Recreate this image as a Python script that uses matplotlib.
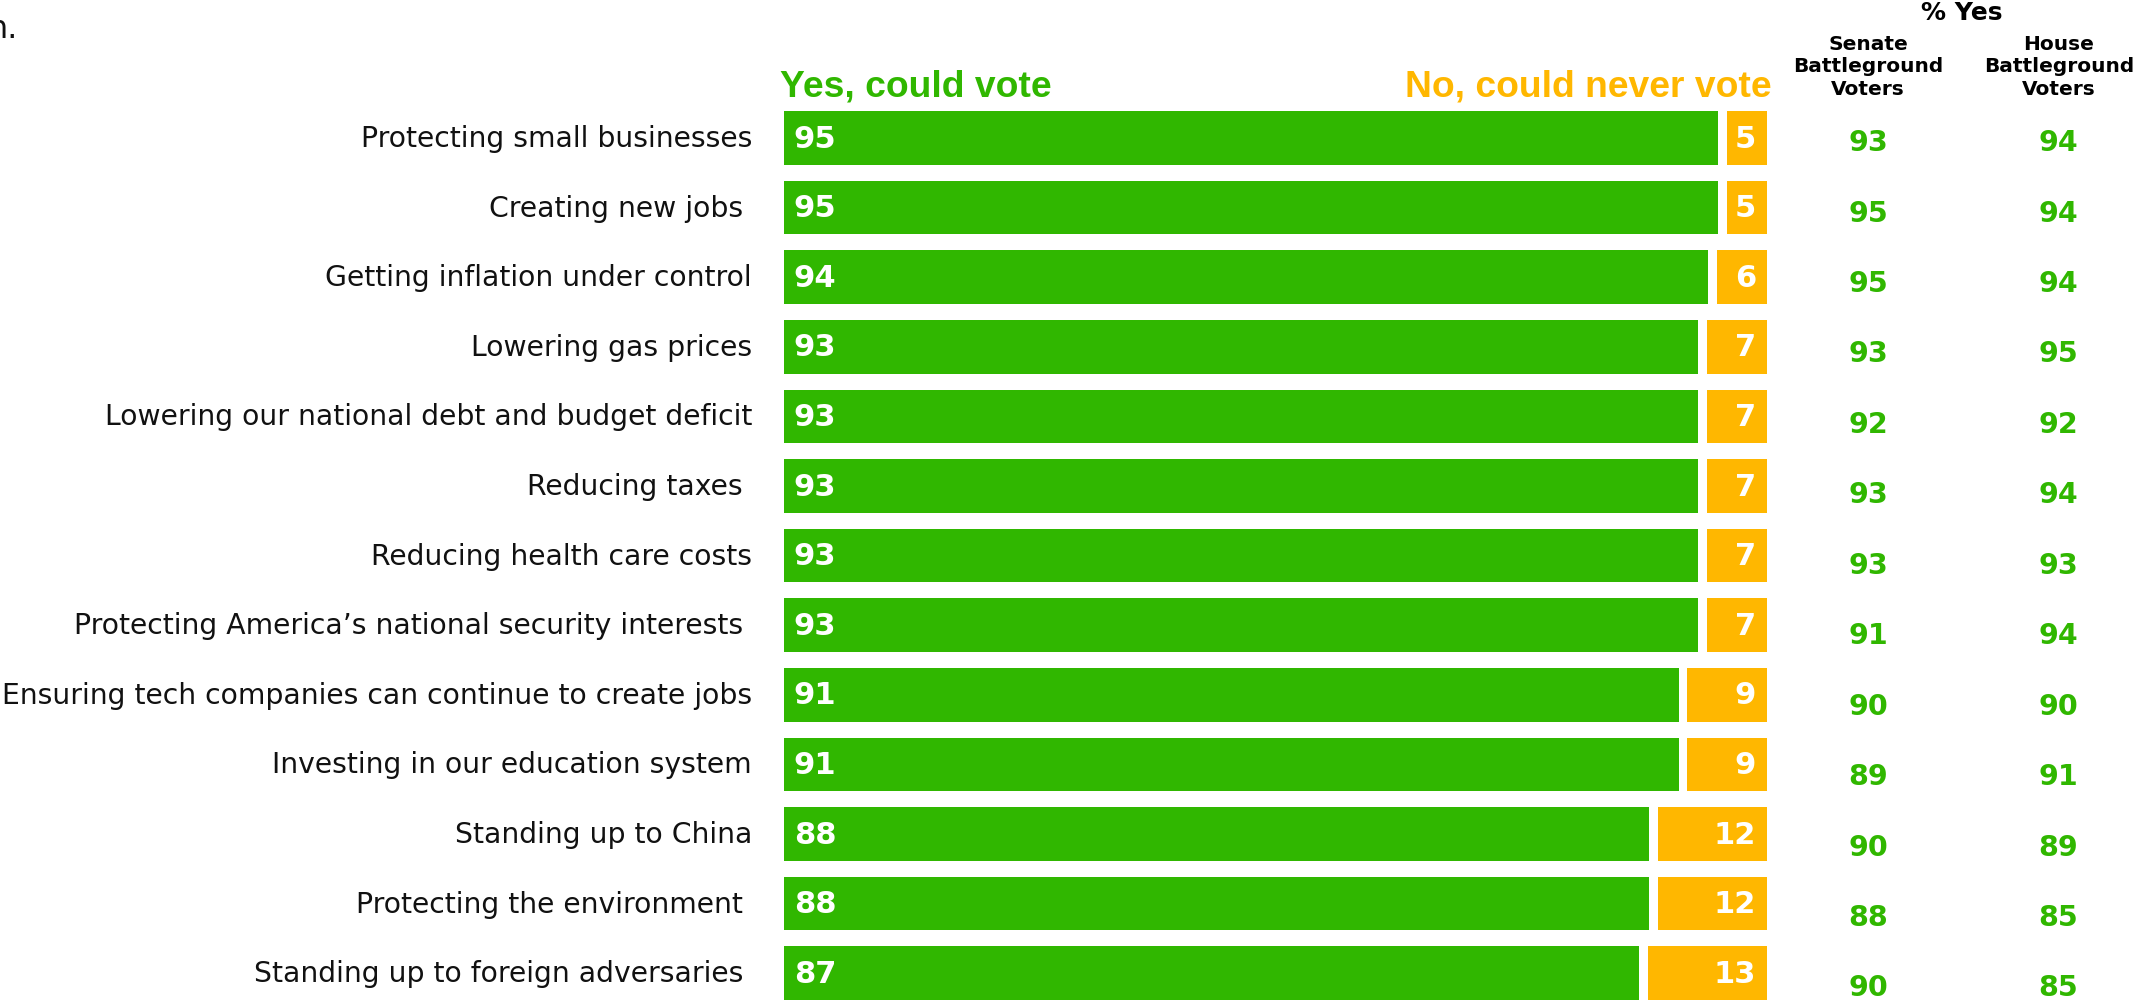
import matplotlib.pyplot as plt

categories = [
    "Protecting small businesses",
    "Creating new jobs ",
    "Getting inflation under control",
    "Lowering gas prices",
    "Lowering our national debt and budget deficit",
    "Reducing taxes ",
    "Reducing health care costs",
    "Protecting America\u2019s national security interests ",
    "Ensuring tech companies can continue to create jobs",
    "Investing in our education system",
    "Standing up to China",
    "Protecting the environment ",
    "Standing up to foreign adversaries ",
]
yes_vals = [95, 95, 94, 93, 93, 93, 93, 93, 91, 91, 88, 88, 87]
no_vals = [5, 5, 6, 7, 7, 7, 7, 7, 9, 9, 12, 12, 13]
senate_vals = [93, 95, 95, 93, 92, 93, 93, 91, 90, 89, 90, 88, 90]
house_vals = [94, 94, 94, 95, 92, 94, 93, 94, 90, 91, 89, 85, 85]

GREEN = "#30B700"
ORANGE = "#FFB700"

W, H = 2133, 1004
bar_left_px, bar_right_px = 784, 1767
unit = (bar_right_px - bar_left_px) / 100.0   # px per percent
row0_px, pitch_px = 139, 69.6


def px_x(x):
    return (x - bar_left_px) / unit


def px_y(y):
    return (y - row0_px) / pitch_px


fig = plt.figure(figsize=(W / 100, H / 100), dpi=100)
ax = fig.add_axes([0, 0, 1, 1])
ax.set_xlim(px_x(0), px_x(W))
ax.set_ylim(px_y(H), px_y(0))
ax.axis("off")

rows = range(len(categories))
gap = 0.9
ax.barh(rows, yes_vals, height=0.77, color=GREEN)
ax.barh(rows, [n - gap for n in no_vals], left=[y + gap for y in yes_vals],
        height=0.77, color=ORANGE)

for i in rows:
    ax.text(px_x(752), i, categories[i], ha="right", va="center",
            fontsize=20.3, color="#111111")
    ax.text(1.0, i, str(yes_vals[i]), ha="left", va="center",
            fontsize=22, fontweight="bold", color="white")
    ax.text(98.9, i, str(no_vals[i]), ha="right", va="center",
            fontsize=22, fontweight="bold", color="white")
    # the side columns drift slightly lower than the bars
    yc = i * 1.012 + 0.06
    ax.text(px_x(1868), yc, str(senate_vals[i]), ha="center", va="center",
            fontsize=20.5, fontweight="bold", color=GREEN)
    ax.text(px_x(2058), yc, str(house_vals[i]), ha="center", va="center",
            fontsize=20.5, fontweight="bold", color=GREEN)

# headers
ax.text(px_x(780), px_y(97), "Yes, could vote", ha="left", va="baseline",
        fontsize=26.8, fontweight="bold", color=GREEN, family="Liberation Sans")
ax.text(px_x(1772), px_y(97), "No, could never vote", ha="right", va="baseline",
        fontsize=26.8, fontweight="bold", color=ORANGE, family="Liberation Sans")
ax.text(px_x(1962), px_y(13), "% Yes", ha="center", va="center",
        fontsize=18, fontweight="bold", color="black")
ax.text(px_x(1868), px_y(67), "Senate\nBattleground\nVoters", ha="center",
        va="center", fontsize=14.5, fontweight="bold", color="black",
        linespacing=1.25)
ax.text(px_x(2059), px_y(67), "House\nBattleground\nVoters", ha="center",
        va="center", fontsize=14.5, fontweight="bold", color="black",
        linespacing=1.25)

# leftover of the cut-off title
ax.text(px_x(17), px_y(38), "n.", ha="right", va="baseline",
        fontsize=23, color="#111111")

fig.savefig("out.png", dpi=100)
